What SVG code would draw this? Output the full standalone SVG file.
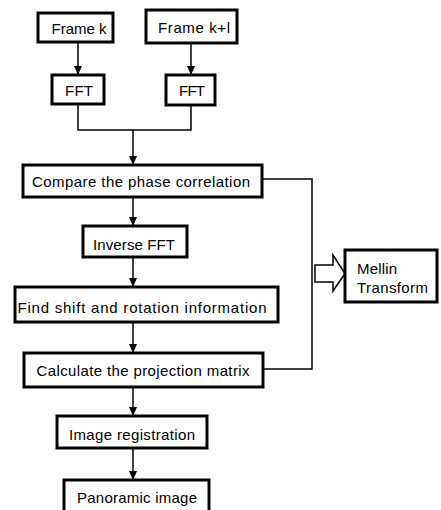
<svg xmlns="http://www.w3.org/2000/svg" width="441" height="510" viewBox="0 0 441 510">
<defs>
<style>
.box{fill:#fff;stroke:#000;stroke-width:3}
.ln{fill:none;stroke:#000;stroke-width:1.5}
text{font-family:"Liberation Sans",Arial,sans-serif;font-size:15px;fill:#000;dominant-baseline:central}
.c{text-anchor:middle}
</style>
<marker id="ah" markerWidth="10" markerHeight="10" refX="9" refY="5" orient="auto" markerUnits="userSpaceOnUse">
<path d="M0,1 L9,5 L0,9 Z" fill="#000"/>
</marker>
</defs>
<rect width="441" height="510" fill="#fff"/>
<g id="connectors">
<line class="ln" x1="78" y1="42" x2="78" y2="75" marker-end="url(#ah)"/>
<line class="ln" x1="191" y1="43" x2="191" y2="75" marker-end="url(#ah)"/>
<polyline class="ln" points="78,104 78,130 191,130 191,105"/>
<line class="ln" x1="133" y1="130" x2="133" y2="165" marker-end="url(#ah)"/>
<line class="ln" x1="133" y1="197" x2="133" y2="226" marker-end="url(#ah)"/>
<line class="ln" x1="133" y1="257" x2="133" y2="287" marker-end="url(#ah)"/>
<line class="ln" x1="133" y1="322" x2="133" y2="353" marker-end="url(#ah)"/>
<line class="ln" x1="133" y1="387" x2="133" y2="416" marker-end="url(#ah)"/>
<line class="ln" x1="133" y1="448" x2="133" y2="480" marker-end="url(#ah)"/>
<polyline class="ln" points="262,179 312,179 312,369 263,369"/>
<path class="ln" d="M315,265 L333,265 L333,255 L345,273.5 L333,291 L333,282 L315,282 Z" fill="#fff"/>
</g>
<g id="frame-k"><rect class="box" x="38" y="13" width="75" height="29"/><text class="c" x="79" y="28" textLength="55">Frame k</text></g>
<g id="frame-kl"><rect class="box" x="146" y="10" width="91" height="33"/><text class="c" x="194" y="27" textLength="72">Frame k+l</text></g>
<g id="fft-1"><rect class="box" x="52" y="75" width="52" height="29"/><text class="c" x="79" y="90" textLength="28">FFT</text></g>
<g id="fft-2"><rect class="box" x="166" y="75" width="49" height="30"/><text class="c" x="192" y="90" textLength="26">FFT</text></g>
<g id="compare"><rect class="box" x="23" y="165" width="239" height="32"/><text class="c" x="141" y="181" textLength="218">Compare the phase correlation</text></g>
<g id="inverse-fft"><rect class="box" x="83" y="226" width="104" height="31"/><text class="c" x="134" y="244" textLength="82">Inverse FFT</text></g>
<g id="find"><rect class="box" x="15" y="287" width="263" height="35"/><text class="c" x="142" y="307" textLength="249">Find shift and rotation information</text></g>
<g id="calculate"><rect class="box" x="24" y="353" width="239" height="34"/><text class="c" x="143" y="370" textLength="213">Calculate the projection matrix</text></g>
<g id="registration"><rect class="box" x="57" y="416" width="150" height="32"/><text class="c" x="132" y="434" textLength="126">Image registration</text></g>
<g id="panoramic"><rect class="box" x="64" y="480" width="145" height="40"/><text class="c" x="137" y="497" textLength="120">Panoramic image</text></g>
<g id="mellin"><rect class="box" x="345" y="250" width="92" height="52"/><text x="357" y="268" textLength="40">Mellin</text><text x="357" y="287" textLength="71">Transform</text></g>
</svg>
